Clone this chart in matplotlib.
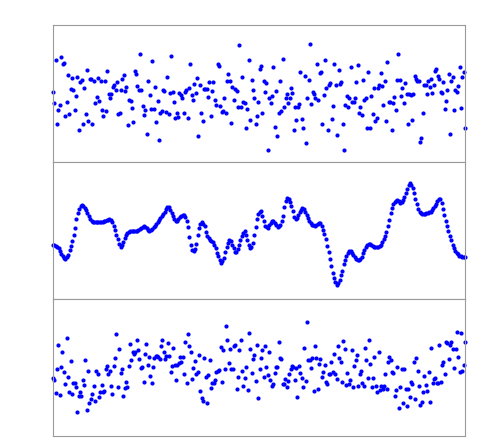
import numpy as np
import matplotlib
matplotlib.use("Agg")
import matplotlib.pyplot as plt

# valeurs (unités arbitraires, 0 = milieu du panneau)

bruit = [
    2, -9, 34, -30, -16, -11, 37, 30, 31, -22, -8, 19, -20, 5, 16, 4, -16, -2, 17, -36,
    12, 14, -30, 6, -20, 24, -27, 15, 15, -30, 13, -9, -3, 16, -7, 13, -16, -22, 13, -17,
    23, 0, -4, 0, 7, 9, 4, 12, -20, -19, 4, 15, 19, 3, 7, -31, -6, -7, -14, -28,
    23, 20, 8, 4, 40, 4, -12, -21, -16, -40, 13, -1, -15, 33, -15, 7, -28, -7, -46, -19,
    -17, 4, 3, -18, 17, -20, 1, 38, 2, -8, -24, -19, -23, 1, -1, -4, -19, 2, 4, -24,
    6, 30, -1, -6, 10, 1, 16, -42, 9, -19, -27, 5, 5, 5, -3, 12, -22, 3, 12, -6,
    -11, 30, 28, -12, -18, -17, -4, -19, 13, 20, 13, -29, 7, -6, 5, 3, -13, 49, -13, 17,
    -8, -9, -34, -15, 34, -26, 14, 4, -4, -30, -22, -8, 25, 28, -19, 13, 2, 11, -56, -4,
    -9, -2, 27, -33, 3, -42, -19, 13, -17, 35, -13, -4, 0, -9, -4, 6, 1, -36, -13, -26,
    -13, -10, 22, -25, -34, 18, -49, -4, 14, 50, -10, 2, 0, -4, 30, -6, 21, 22, -30, -1,
    34, 6, -36, 9, 11, -25, -12, 30, 9, -41, 24, 10, 12, -30, -56, -11, -2, -13, -4, 27,
    -8, -8, -4, 12, 29, -19, -13, -21, 14, -6, -4, -34, 22, -34, -2, -20, 6, -27, -24, 6,
    9, 21, 8, -11, 13, -27, 32, -8, -8, -36, -9, -3, -16, 14, 40, 14, -2, 6, -9, 11,
    0, -30, 0, -1, -26, 0, 18, 15, 13, 13, -48, -44, -19, 9, 9, 0, 13, 7, 15, 1,
    9, 23, 25, 18, 15, 2, 1, 12, -15, -7, 4, 20, -40, 13, 17, -16, 4, 2, 8, 27,
    -14, 17, 22, -34,
]

lisse = [
    -14, -14, -15, -16, -17, -20, -23, -25, -27, -28, -26, -24, -19, -15, -10, -4, 3, 12, 18, 22,
    25, 26, 25, 23, 21, 18, 15, 12, 10, 9, 9, 9, 9, 9, 9, 9, 9, 10, 10, 11,
    11, 12, 11, 9, 5, 1, -4, -8, -13, -16, -14, -11, -7, -4, -2, -1, 0, 0, 0, 0,
    0, 0, 1, 2, 3, 4, 5, 4, 3, 1, 0, 1, 2, 4, 5, 7, 9, 11, 13, 15,
    17, 19, 22, 24, 24, 21, 18, 15, 12, 10, 10, 12, 14, 15, 16, 16, 14, 10, 4, -6,
    -14, -19, -20, -18, -13, -4, 3, 7, 9, 7, 5, -1, -5, -7, -9, -10, -11, -14, -17, -22,
    -25, -29, -32, -30, -27, -21, -16, -12, -9, -10, -14, -17, -21, -21, -18, -14, -9, -5, -2, 0,
    -4, -9, -14, -17, -16, -12, -4, 4, 12, 17, 19, 20, 15, 10, 5, 4, 3, 6, 8, 10,
    10, 8, 6, 4, 5, 6, 10, 15, 24, 30, 33, 32, 29, 25, 20, 14, 12, 13, 16, 19,
    21, 23, 22, 19, 16, 13, 10, 8, 6, 6, 5, 6, 7, 8, 8, 5, 1, -3, -8, -15,
    -21, -28, -35, -42, -47, -51, -54, -52, -49, -44, -40, -33, -29, -25, -22, -20, -20, -22, -24, -26,
    -28, -29, -29, -28, -26, -22, -19, -16, -14, -13, -13, -14, -15, -16, -16, -16, -16, -15, -14, -11,
    -8, -5, -1, 5, 11, 18, 23, 27, 29, 30, 31, 30, 28, 29, 31, 34, 38, 42, 46, 48,
    46, 43, 38, 32, 27, 22, 19, 18, 17, 17, 17, 18, 18, 19, 19, 21, 23, 25, 27, 30,
    32, 32, 28, 22, 16, 10, 5, 0, -5, -9, -14, -17, -20, -22, -23, -25, -25, -26, -26, -26,
]

bruit_tendance = [
    -10, -12, -25, -1, 23, -27, 1, 16, -4, -16, 30, -9, -24, 7, -26, -15, -15, -19, -44, -28,
    -24, -28, -12, -17, 8, -42, -3, -35, -31, -26, -18, -33, -3, -6, -29, -24, -17, -24, -23, -1,
    2, -6, -3, -18, -26, 2, 10, 34, -19, 19, -5, -1, -28, -20, -14, -19, 2, 24, 8, 16,
    14, 16, 28, 18, 9, 0, 1, -14, 14, 24, 3, 11, -8, -15, 1, 10, 12, 12, 11, 9,
    22, 28, 16, 9, 12, 25, 12, -4, 2, 20, 3, -12, 3, 5, 11, 6, 11, -6, 26, -15,
    34, 22, 16, -11, 0, 7, -6, -4, 13, -23, -30, -33, 10, -9, -35, -7, 8, -20, -15, -15,
    -12, -4, -3, -2, 21, -14, 18, -1, 42, 28, 5, 19, -1, -1, 22, 23, -21, -9, 18, 28,
    -3, -18, -10, 1, -22, 35, 19, -5, 9, 13, -13, 23, -30, -1, 10, 18, -9, 22, 1, -7,
    16, -12, -18, -16, -5, 1, 1, 26, 10, 9, -16, -16, -11, -19, -13, -6, -1, 2, 1, -12,
    0, -29, 2, -5, -10, -19, 20, -13, 46, 8, 8, 0, 10, -23, 22, 10, -21, 4, 9, -9,
    -4, 3, -14, -16, -6, -6, 6, -4, 14, -6, -11, 22, 10, 6, -14, 27, 19, -17, -5, -16,
    -12, 18, -19, 2, 8, 13, -18, -6, -3, -15, -18, 20, 8, -10, 28, 4, -19, -10, 11, -18,
    -24, 16, -22, -18, -21, -18, -6, -21, 6, 11, 8, -4, -5, -28, -22, 1, -40, -19, -1, -35,
    -1, -21, -38, -21, -29, -14, -16, 6, -31, 10, -3, -18, -37, -34, -24, -8, -17, -23, -4, -34,
    20, -15, -11, -10, -15, -15, 23, -14, 3, 6, -6, 26, 25, 9, 23, 26, 19, 0, 19, 36,
    11, -4, 35, -3, 3, 26,
]

series = [bruit, lisse, bruit_tendance]

# FIGURE : trois panneaux empilés, sans graduations

fig = plt.figure(figsize=(4.91, 4.39), dpi=100)

gauche, largeur = 53 / 491, 412 / 491
haut_panneau = 137 / 439

for k, y in enumerate(series):
    bas = (439 - 437) / 439 + (2 - k) * haut_panneau
    ax = fig.add_axes([gauche, bas, largeur, haut_panneau])
    x = np.arange(len(y))
    ax.plot(x, y, 'o', color='blue', markersize=3.0, markeredgewidth=0,
            clip_on=False)
    ax.set_xlim(0, len(y) - 1)
    ax.set_ylim(-68.5, 68.5)
    ax.set_xticks([])
    ax.set_yticks([])
    for s in ax.spines.values():
        s.set_color('#9a9a9a')
        s.set_linewidth(0.8)

fig.savefig('out.png', dpi=100)
